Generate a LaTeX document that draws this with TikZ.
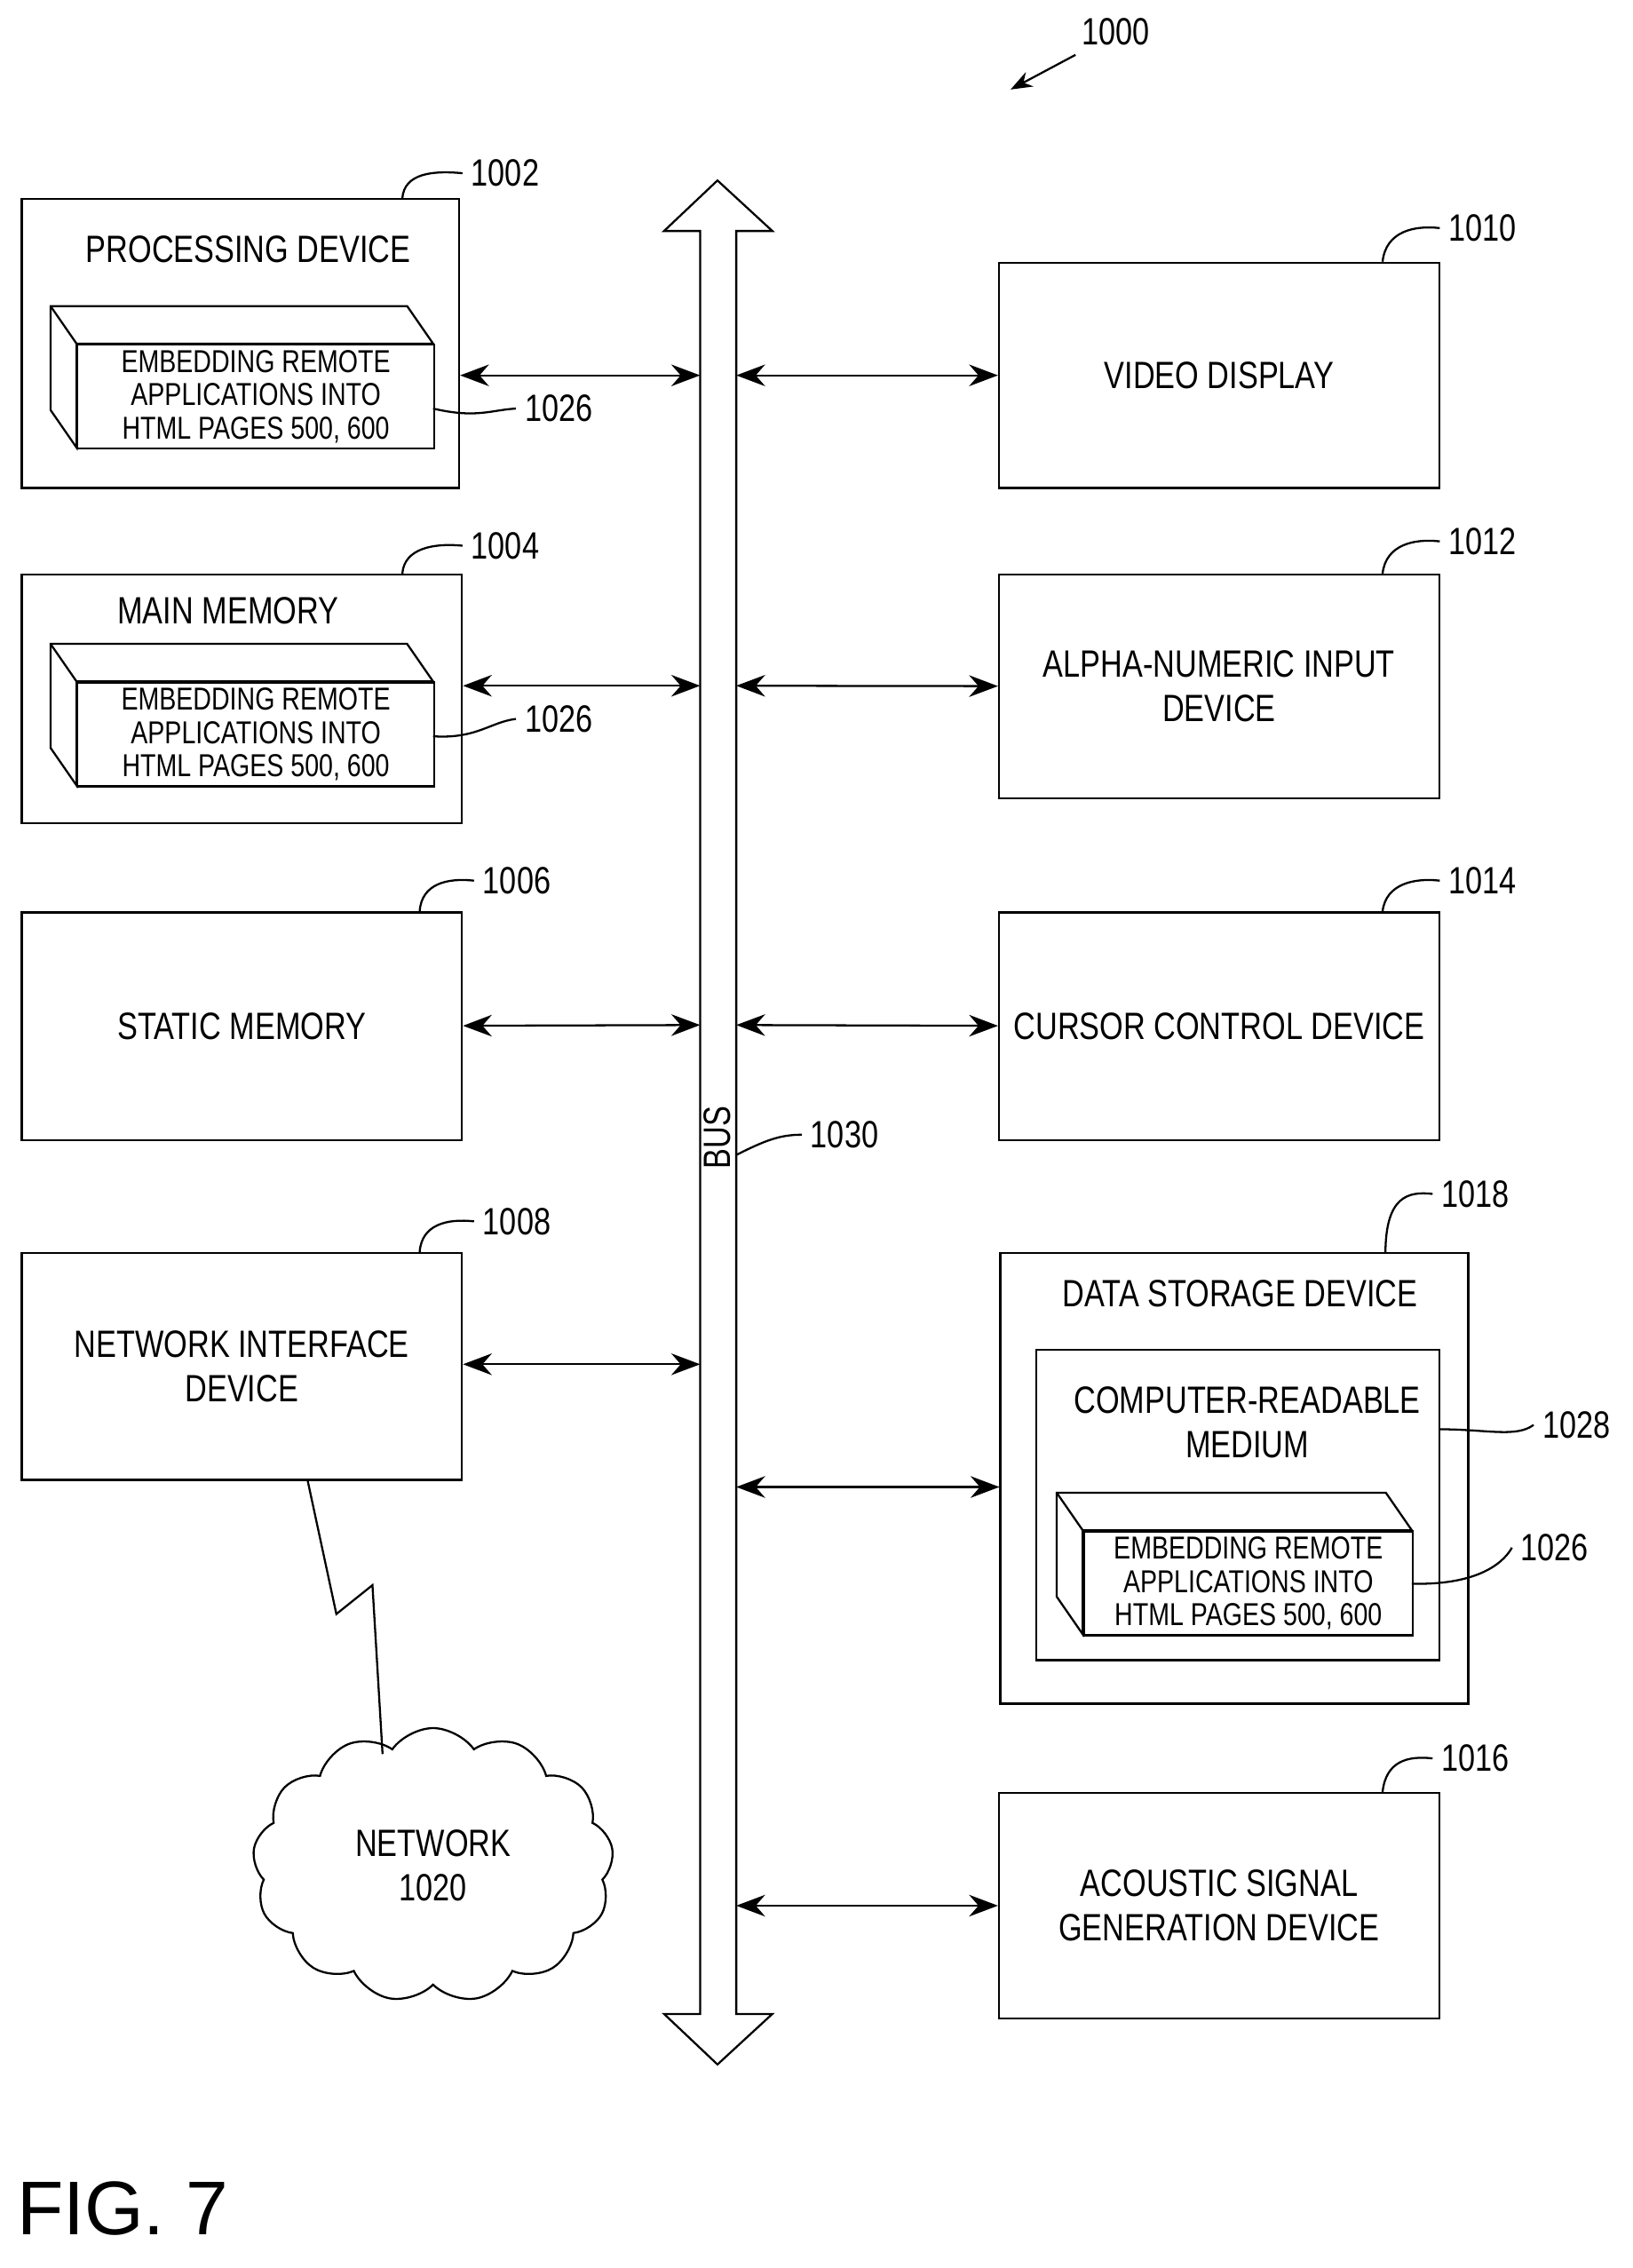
\documentclass[tikz,border=0pt]{standalone}
\usepackage{fontspec}
\setmainfont{Liberation Sans}[FakeStretch=0.8]
\newfontfamily\figfont{Liberation Sans}
\usetikzlibrary{positioning, arrows.meta, shapes.symbols}
\newcommand{\remotebox}[4]{% front top-left x, y, width, name
  \draw[thick, fill=white] (#1-18,#2-26) -- (#1+#3-18,#2-26) -- (#1+#3,#2) -- (#1,#2) -- (#1,#2+72) -- (#1-18,#2+46) -- cycle;
  \draw[thick] (#1-18,#2-26) -- (#1,#2);
  \node[box_node, minimum width=#3*0.02cm, minimum height=72*0.02cm, anchor=north west] (#4) at (#1,#2) {};
  \node[small_text] at (#4.center) {EMBEDDING REMOTE\\APPLICATIONS INTO\\HTML PAGES 500, 600};
}
\begin{document}
\begin{tikzpicture}
    [
        x=0.02cm, y=-0.02cm,
        box_node/.style={rectangle, draw=black, thick, inner sep=0pt},
        big_text/.style={align=center, font=\fontsize{15}{17.5}\selectfont},
        small_text/.style={align=center, font=\fontsize{12.5}{13.2}\selectfont},
        ref_text/.style={font=\fontsize{15}{17}\selectfont},
        leader/.style={thick},
        bus_arrow/.style={{Stealth[length=4mm,width=3mm]}-{Stealth[length=4mm,width=3mm]}, thick},
    ]
        \useasboundingbox (0,0) rectangle (1131,1571);
        % left column
        \node[box_node, minimum width=303*0.02cm, minimum height=200*0.02cm] (proc) at (166.5,238) {};
        \node[big_text] at (172,173) {PROCESSING DEVICE};
        \remotebox{53}{238}{247}{proc_sw}
        \node[box_node, minimum width=305*0.02cm, minimum height=172*0.02cm] (mainmem) at (167.5,484) {};
        \node[big_text] at (158,423) {MAIN MEMORY};
        \remotebox{53}{472}{247}{mem_sw}
        \node[box_node, big_text, minimum width=305*0.02cm, minimum height=158*0.02cm] (static) at (167.5,711) {STATIC MEMORY};
        \node[box_node, big_text, minimum width=305*0.02cm, minimum height=157*0.02cm] (netif) at (167.5,946.5) {NETWORK INTERFACE\\DEVICE};
        % right column
        \node[box_node, big_text, minimum width=305*0.02cm, minimum height=156*0.02cm] (video) at (844.5,260) {VIDEO DISPLAY};
        \node[box_node, big_text, minimum width=305*0.02cm, minimum height=155*0.02cm] (alpha) at (844.5,475.5) {ALPHA-NUMERIC INPUT\\DEVICE};
        \node[box_node, big_text, minimum width=305*0.02cm, minimum height=158*0.02cm] (cursor) at (844.5,711) {CURSOR CONTROL DEVICE};
        \node[box_node, minimum width=324*0.02cm, minimum height=312*0.02cm] (storage) at (855,1024) {};
        \node[big_text] at (859,896) {DATA STORAGE DEVICE};
        \node[box_node, minimum width=279*0.02cm, minimum height=215*0.02cm] (crm) at (857.5,1042.5) {};
        \node[big_text] at (864,985) {COMPUTER-READABLE\\MEDIUM};
        \remotebox{750}{1060}{228}{crm_sw}
        \node[box_node, big_text, minimum width=305*0.02cm, minimum height=156*0.02cm] (acoustic) at (844.5,1320) {ACOUSTIC SIGNAL\\GENERATION DEVICE};
        % bus
        \draw[thick, fill=white] (497,125) -- (535,160) -- (510,160) -- (510,1395) -- (535,1395) -- (497,1430)
            -- (460,1395) -- (485,1395) -- (485,160) -- (460,160) -- cycle;
        \node[ref_text, rotate=90] (bus) at (497,788) {BUS};
        \foreach \yy in {260,475,710,945} \coordinate (busL\yy) at (485,\yy);
        \foreach \yy in {260,475,710,1030,1320} \coordinate (busR\yy) at (510,\yy);
        \draw[bus_arrow] (proc.east |- busL260) -- (busL260);
        \draw[bus_arrow] (mainmem.east |- busL475) -- (busL475);
        \draw[bus_arrow] (static) -- (busL710);
        \draw[bus_arrow] (netif.east |- busL945) -- (busL945);
        \draw[bus_arrow] (busR260) -- (video);
        \draw[bus_arrow] (busR475) -- (alpha);
        \draw[bus_arrow] (busR710) -- (cursor);
        \draw[bus_arrow] (busR1030) -- (storage.west |- busR1030);
        \draw[bus_arrow] (busR1320) -- (acoustic);
        % network
        \node[cloud, draw=black, thick, cloud puffs=13, cloud puff arc=110, aspect=1.3,
              minimum width=250*0.02cm, minimum height=190*0.02cm, big_text] (network) at (300,1292) {NETWORK\\1020};
        \draw[thick] (213,1025) -- (233,1118) -- (258,1098) -- (265,1215);
        % reference numerals
        \node[ref_text] (r1000) at (773,22) {1000};
        \draw[thick, -{Stealth[length=3mm]}] (745,38) -- (700,62);
        \node[ref_text] (r1002) at (350,120) {1002};
        \draw[leader] (proc.north east) ++(-40,0) .. controls (280,120) and (300,118) .. (r1002.west);
        \node[ref_text] (r1004) at (350,378) {1004};
        \draw[leader] (mainmem.north east) ++(-42,0) .. controls (280,380) and (300,376) .. (r1004.west);
        \node[ref_text] (r1006) at (358,610) {1006};
        \draw[leader] (static.north east) ++(-30,0) .. controls (292,612) and (310,608) .. (r1006.west);
        \node[ref_text] (r1008) at (358,846) {1008};
        \draw[leader] (netif.north east) ++(-30,0) .. controls (292,848) and (310,844) .. (r1008.west);
        \node[ref_text] (r1010) at (1027,158) {1010};
        \draw[leader] (video.north east) ++(-40,0) .. controls (960,160) and (980,156) .. (r1010.west);
        \node[ref_text] (r1012) at (1027,375) {1012};
        \draw[leader] (alpha.north east) ++(-40,0) .. controls (960,377) and (980,373) .. (r1012.west);
        \node[ref_text] (r1014) at (1027,610) {1014};
        \draw[leader] (cursor.north east) ++(-40,0) .. controls (960,612) and (980,608) .. (r1014.west);
        \node[ref_text] (r1018) at (1022,827) {1018};
        \draw[leader] (storage.north east) ++(-58,0) .. controls (960,829) and (975,825) .. (r1018.west);
        \node[ref_text] (r1016) at (1022,1218) {1016};
        \draw[leader] (acoustic.north east) ++(-40,0) .. controls (960,1220) and (975,1216) .. (r1016.west);
        \node[ref_text] (r1026a) at (387,283) {1026};
        \draw[leader] (300,283) .. controls (330,290) and (340,284) .. (r1026a.west);
        \node[ref_text] (r1026b) at (387,498) {1026};
        \draw[leader] (300,510) .. controls (330,512) and (340,500) .. (r1026b.west);
        \node[ref_text] (r1028) at (1092,987) {1028};
        \draw[leader] (997,990) .. controls (1030,990) and (1050,996) .. (r1028.west);
        \node[ref_text] (r1026c) at (1077,1072) {1026};
        \draw[leader] (978,1097) .. controls (1020,1098) and (1040,1085) .. (r1026c.west);
        \node[ref_text] (r1030) at (585,786) {1030};
        \draw[leader] (510,800) .. controls (530,790) and (540,786) .. (r1030.west);
        \node[font=\figfont\fontsize{30}{34}\selectfont] at (85,1530) {FIG. 7};
    \end{tikzpicture}
\end{document}
